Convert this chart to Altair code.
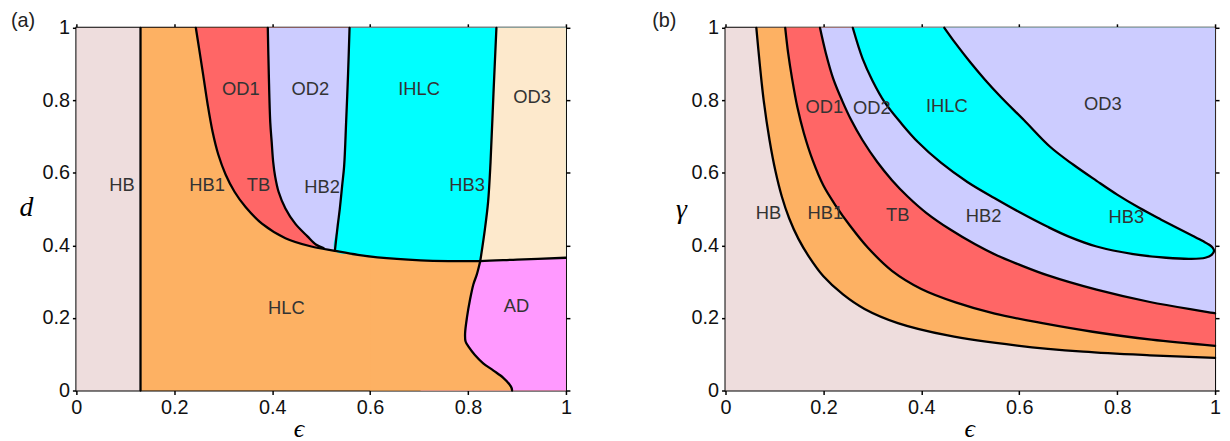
import altair as alt
import pandas as pd

# ---------------- Panel (a): epsilon vs d ----------------
a_hb_edge = 0.131
# L1: left boundary of OD1/TB, continuing as top boundary of HLC
a_L1_x = [0.244, 0.251, 0.259, 0.268, 0.278, 0.29, 0.305, 0.323, 0.346, 0.379, 0.427, 0.48, 0.528, 0.575, 0.615, 0.703, 0.76, 0.825, 0.9, 1.0]
a_L1_y = [1.0, 0.94, 0.87, 0.79, 0.715, 0.65, 0.595, 0.548, 0.505, 0.46, 0.42, 0.397, 0.385, 0.374, 0.367, 0.359, 0.357, 0.357, 0.361, 0.366]
# L2: OD1 | OD2 boundary
a_L2_x = [0.391, 0.393, 0.396, 0.399, 0.402, 0.406, 0.413, 0.427, 0.447, 0.472, 0.49, 0.505]
a_L2_y = [1.0, 0.875, 0.74, 0.684, 0.63, 0.59, 0.548, 0.502, 0.46, 0.425, 0.402, 0.393]
# L3: OD2 | IHLC boundary
a_L3_x = [0.558, 0.555, 0.551, 0.547, 0.543, 0.538, 0.534, 0.528]
a_L3_y = [1.0, 0.875, 0.74, 0.62, 0.566, 0.5, 0.457, 0.385]
# L4: IHLC | OD3 boundary
a_L4_x = [0.858, 0.852, 0.846, 0.841, 0.834, 0.825]
a_L4_y = [1.0, 0.82, 0.63, 0.52, 0.44, 0.357]
# AD boundary
a_AD_x = [0.825, 0.818, 0.811, 0.804, 0.798, 0.794, 0.795, 0.801, 0.814, 0.831, 0.852, 0.872, 0.884, 0.889, 0.89]
a_AD_y = [0.357, 0.32, 0.293, 0.25, 0.203, 0.157, 0.135, 0.121, 0.098, 0.075, 0.055, 0.035, 0.018, 0.007, 0.0]

a_labels = ["HB", "HB1", "TB", "HB2", "HB3", "OD1", "OD2", "IHLC", "OD3", "HLC", "AD"]
a_lab_x = [0.093, 0.267, 0.372, 0.502, 0.798, 0.336, 0.478, 0.70, 0.931, 0.429, 0.899]
a_lab_y = [0.567, 0.567, 0.567, 0.561, 0.567, 0.831, 0.831, 0.831, 0.809, 0.226, 0.232]

# ---------------- Panel (b): epsilon vs gamma ----------------
b_C1_x = [0.063, 0.07, 0.078, 0.09, 0.102, 0.115, 0.13, 0.149, 0.17, 0.2, 0.24, 0.284, 0.352, 0.454, 0.596, 0.731, 0.867, 1.0]
b_C1_y = [1.0, 0.9, 0.8, 0.69, 0.605, 0.535, 0.475, 0.418, 0.37, 0.315, 0.265, 0.225, 0.186, 0.152, 0.124, 0.107, 0.097, 0.09]
b_C2_x = [0.122, 0.128, 0.136, 0.147, 0.16, 0.178, 0.2, 0.225, 0.254, 0.29, 0.34, 0.4, 0.47, 0.55, 0.65, 0.75, 0.87, 1.0]
b_C2_y = [1.0, 0.93, 0.86, 0.78, 0.71, 0.635, 0.565, 0.51, 0.455, 0.395, 0.33, 0.28, 0.243, 0.212, 0.185, 0.162, 0.14, 0.123]
b_C3_x = [0.193, 0.205, 0.22, 0.238, 0.257, 0.28, 0.31, 0.34, 0.372, 0.41, 0.46, 0.51, 0.555, 0.6, 0.657, 0.758, 0.867, 1.0]
b_C3_y = [1.0, 0.93, 0.86, 0.8, 0.745, 0.69, 0.63, 0.58, 0.535, 0.49, 0.443, 0.403, 0.372, 0.347, 0.318, 0.278, 0.244, 0.213]
# IHLC tongue: lower and upper edges
b_C4_x = [0.26, 0.28, 0.30, 0.325, 0.36, 0.393, 0.44, 0.494, 0.55, 0.6, 0.657, 0.7, 0.758, 0.833, 0.9, 0.95, 0.98, 0.993, 0.998]
b_C4_y = [1.0, 0.915, 0.855, 0.795, 0.735, 0.685, 0.628, 0.575, 0.53, 0.492, 0.452, 0.425, 0.397, 0.376, 0.366, 0.363, 0.366, 0.374, 0.385]
b_C5_x = [0.447, 0.47, 0.5, 0.53, 0.562, 0.61, 0.663, 0.71, 0.758, 0.8, 0.846, 0.89, 0.927, 0.955, 0.975, 0.988, 0.995, 0.998]
b_C5_y = [1.0, 0.957, 0.905, 0.857, 0.81, 0.745, 0.672, 0.623, 0.578, 0.54, 0.503, 0.471, 0.445, 0.426, 0.412, 0.402, 0.394, 0.385]

b_labels = ["HB", "HB1", "TB", "HB2", "HB3", "OD1", "OD2", "IHLC", "OD3"]
b_lab_x = [0.088, 0.204, 0.352, 0.527, 0.819, 0.202, 0.299, 0.452, 0.771]
b_lab_y = [0.49, 0.49, 0.485, 0.482, 0.479, 0.781, 0.778, 0.784, 0.789]

ticks = [0, 0.2, 0.4, 0.6, 0.8, 1]

C_HB = "#eedddd"
C_OR = "#fdb163"
C_RED = "#ff6666"
C_LAV = "#ccccff"
C_CY = "#00ffff"
C_BE = "#fde9cc"
C_MA = "#ff99ff"

W, H = 494, 366
SANS = "Liberation Sans, Arial, Helvetica, sans-serif"
SERIF = "Liberation Serif, DejaVu Serif, serif"
INTERP = "catmull-rom"
dom = alt.Scale(domain=[0, 1], nice=False, zero=False)


def axis_common(**kw):
    base = dict(values=ticks, format="~g", tickSize=4, tickWidth=1.5, tickColor="black",
                domain=False, grid=False, labelFont=SANS, labelFontSize=20, labelColor="#111",
                labelPadding=3, labelFlush=False, labelOverlap=False)
    base.update(kw)
    return alt.Axis(**base)


def curve(xs, ys, name):
    return pd.DataFrame({"x": xs, "y": ys, "c": name, "i": list(range(len(xs)))})


def vert_area(xs, ys, color):
    df = pd.DataFrame({"x": xs, "y": ys})
    df["top"] = 1.0
    return alt.Chart(df).mark_area(color=color, orient="vertical", opacity=1,
                                   interpolate=INTERP).encode(
        x=alt.X("x:Q", scale=dom, axis=None),
        y=alt.Y("y:Q", scale=dom, axis=None),
        y2="top:Q")


def vert_area_below(xs, ys, color):
    df = pd.DataFrame({"x": xs, "y": ys})
    df["bot"] = 0.0
    return alt.Chart(df).mark_area(color=color, orient="vertical", opacity=1,
                                   interpolate=INTERP).encode(
        x=alt.X("x:Q", scale=dom, axis=None),
        y=alt.Y("y:Q", scale=dom, axis=None),
        y2="bot:Q")


def horiz_area(xs, ys, color, right=True, left_edge=0.0):
    df = pd.DataFrame({"x": xs, "y": ys}).sort_values("y")
    df["edge"] = 1.0 if right else left_edge
    return alt.Chart(df).mark_area(color=color, orient="horizontal", opacity=1,
                                   interpolate=INTERP).encode(
        y=alt.Y("y:Q", scale=dom, axis=None),
        x=alt.X("x:Q", scale=dom, axis=None),
        x2="edge:Q")


def rect(x0, x1, color, xtitle=None, ytitle=None, axes="main",
         xtitle_x=0, ytitle_x=0, ytitle_y=0):
    df = pd.DataFrame({"x": [x0], "x2": [x1], "y": [0.0], "y2": [1.0]})
    if axes == "main":
        xax = axis_common(orient="bottom", title=xtitle, titleFont=SERIF, titleFontSize=26,
                          titleFontWeight="normal", titleFontStyle="italic", titleColor="black",
                          titleX=xtitle_x, titleY=46, titleBaseline="alphabetic", titleAlign="center")
        yax = axis_common(orient="left", title=ytitle, titleFont=SERIF, titleFontSize=28,
                          titleFontWeight="normal", titleFontStyle="italic", titleColor="black",
                          titleAngle=0, titleX=ytitle_x, titleY=ytitle_y, titleBaseline="middle",
                          titleAlign="center")
    else:
        xax = axis_common(orient="top", labels=False, title=None)
        yax = axis_common(orient="right", labels=False, title=None)
    return alt.Chart(df).mark_rect(color=color, opacity=1).encode(
        x=alt.X("x:Q", scale=dom, axis=xax), x2="x2:Q",
        y=alt.Y("y:Q", scale=dom, axis=yax), y2="y2:Q")


def lines(dfs):
    df = pd.concat(dfs, ignore_index=True)
    return alt.Chart(df).mark_line(color="black", strokeWidth=2.3, strokeJoin="round",
                                   strokeCap="round", interpolate=INTERP).encode(
        x=alt.X("x:Q", scale=dom, axis=None),
        y=alt.Y("y:Q", scale=dom, axis=None),
        detail="c:N", order="i:Q")


def labels(names, xs, ys):
    df = pd.DataFrame({"t": names, "x": xs, "y": ys})
    return alt.Chart(df).mark_text(font=SANS, fontSize=18.5, color="#333").encode(
        x=alt.X("x:Q", scale=dom, axis=None),
        y=alt.Y("y:Q", scale=dom, axis=None),
        text="t:N")


def panel_tag(t, dx):
    df = pd.DataFrame({"t": [t]})
    return alt.Chart(df).mark_text(font=SANS, fontSize=20, color="#222", align="left",
                                   baseline="middle").encode(
        text="t:N", x=alt.value(dx), y=alt.value(-6.5))


# ----- panel (a) layers -----
L1 = curve(a_L1_x, a_L1_y, "L1")
mid = L1[(L1.x > 0.53) & (L1.x <= 0.826)]
right = L1[L1.x >= 0.7]

cyan_left_x = a_L3_x + list(mid.x)
cyan_left_y = a_L3_y + list(mid.y)
lav_x = a_L2_x + [a_L3_x[-1]]
lav_y = a_L2_y + [a_L3_y[-1]]

pa = alt.layer(
    rect(0, a_hb_edge, C_HB, xtitle="ϵ", ytitle="d", xtitle_x=224, ytitle_x=-51, ytitle_y=181),
    rect(a_hb_edge, 1, C_OR, axes="mirror"),
    vert_area(a_L1_x, a_L1_y, C_RED),
    horiz_area(lav_x, lav_y, C_LAV),
    horiz_area(cyan_left_x, cyan_left_y, C_CY),
    horiz_area(a_L4_x, a_L4_y, C_BE),
    vert_area_below(list(right.x), list(right.y), C_MA),
    horiz_area(a_AD_x, a_AD_y, C_OR, right=False, left_edge=0.6),
    lines([
        curve([a_hb_edge, a_hb_edge], [0, 1], "L0"),
        L1,
        curve(a_L2_x, a_L2_y, "L2"),
        curve(a_L3_x, a_L3_y, "L3"),
        curve(a_L4_x, a_L4_y, "L4"),
        curve(a_AD_x, a_AD_y, "AD"),
    ]),
    labels(a_labels, a_lab_x, a_lab_y),
    panel_tag("(a)", -66),
).properties(width=W, height=H)

# ----- panel (b) layers -----
tongue_x = b_C4_x + b_C5_x[::-1][1:]
tongue_y = b_C4_y + b_C5_y[::-1][1:]

pb = alt.layer(
    rect(0, 1, C_HB, xtitle="ϵ", ytitle="γ", xtitle_x=246, ytitle_x=-45, ytitle_y=183),
    rect(0, 0, C_HB, axes="mirror"),
    vert_area(b_C1_x, b_C1_y, C_OR),
    vert_area(b_C2_x, b_C2_y, C_RED),
    vert_area(b_C3_x, b_C3_y, C_LAV),
    vert_area(b_C4_x, b_C4_y, C_CY),
    vert_area(b_C5_x, b_C5_y, C_LAV),
    lines([
        curve(b_C1_x, b_C1_y, "C1"),
        curve(b_C2_x, b_C2_y, "C2"),
        curve(b_C3_x, b_C3_y, "C3"),
        curve(tongue_x, tongue_y, "T"),
    ]),
    labels(b_labels, b_lab_x, b_lab_y),
    panel_tag("(b)", -74),
).properties(width=W, height=H)

chart = alt.hconcat(pa, pb, spacing=79).properties(
    padding={"left": 2, "top": 0, "right": 0, "bottom": 0}
).configure_view(stroke="black", strokeWidth=2)

chart.save("out.html", embed_options={"renderer": "svg", "actions": False})
